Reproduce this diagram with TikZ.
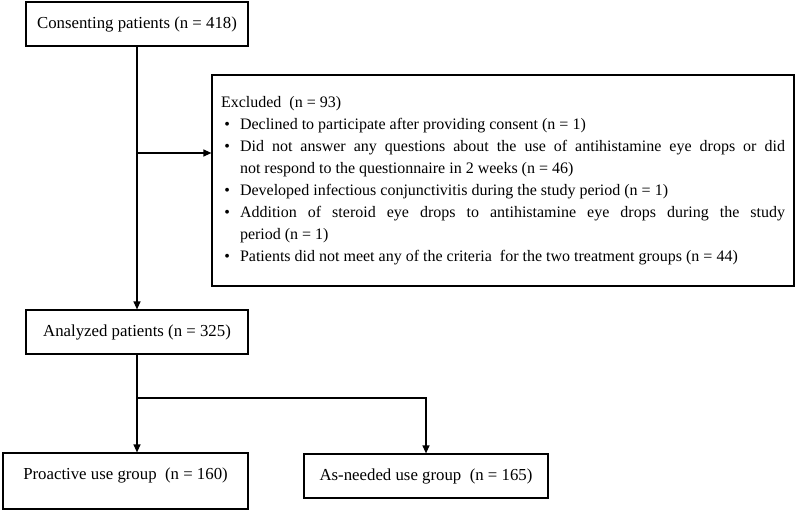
\documentclass[tikz,border=0pt]{standalone}
\usepackage{fontspec}
\setmainfont{Liberation Serif}
\usepackage{tikz}
\usetikzlibrary{arrows.meta,positioning,calc}
\tikzset{
  box/.style={draw, line width=1.2pt, inner sep=0pt, font=\fontsize{16.8}{22}\selectfont},
  flow/.style={line width=1.2pt, -{Triangle[length=8pt,width=7pt]}},
}
\newenvironment{exclist}{\begin{list}{\textbullet}{\setlength{\leftmargin}{19pt}\setlength{\labelwidth}{9pt}\setlength{\labelsep}{10pt}\setlength{\itemsep}{0pt}\setlength{\parsep}{0pt}\setlength{\topsep}{0pt}\setlength{\partopsep}{0pt}}}{\end{list}}

\begin{document}
\begin{tikzpicture}[x=1pt,y=1pt]
\useasboundingbox (0,0) rectangle (796,-511);
\node[box, minimum width=222pt, minimum height=44pt] (consent) at (137,-24) {Consenting patients (n = 418)};
\node[box, text width=564pt, inner xsep=9pt, minimum height=211pt, align=justify, font=\fontsize{16}{22}\selectfont] (excluded) at (503,-180.5) {\hyphenpenalty=10000
Excluded\ \ (n = 93)
\begin{exclist}
\item Declined to participate after providing consent (n = 1)
\item Did not answer any questions about the use of antihistamine eye drops or did\linebreak not respond to the questionnaire in 2 weeks (n = 46)
\item Developed infectious conjunctivitis during the study period (n = 1)
\item Addition of steroid eye drops to antihistamine eye drops during the study\linebreak period (n = 1)
\item Patients did not meet any of the criteria\ \ for the two treatment groups (n = 44)
\end{exclist}};
\node[box, minimum width=222pt, minimum height=44pt] (analyzed) at (137,-332) {Analyzed patients (n = 325)};
\node[box, minimum width=245pt, minimum height=56pt, text height=11.5pt, text depth=14pt] (proactive) at (125.5,-481) {Proactive use group\ \ (n = 160)};
\node[box, minimum width=244pt, minimum height=44pt] (asneeded) at (426,-476) {As-needed use group\ \ (n = 165)};
\draw[flow] (consent) -- (analyzed);
\coordinate (split1) at (137,-153);
\draw[flow] (split1) -- (split1 -| excluded.west);
\draw[flow] (analyzed.south) -- (analyzed.south |- proactive.north);
\coordinate (split2) at (137,-398);
\draw[flow] (split2) -| (asneeded.north);
\end{tikzpicture}
\end{document}
